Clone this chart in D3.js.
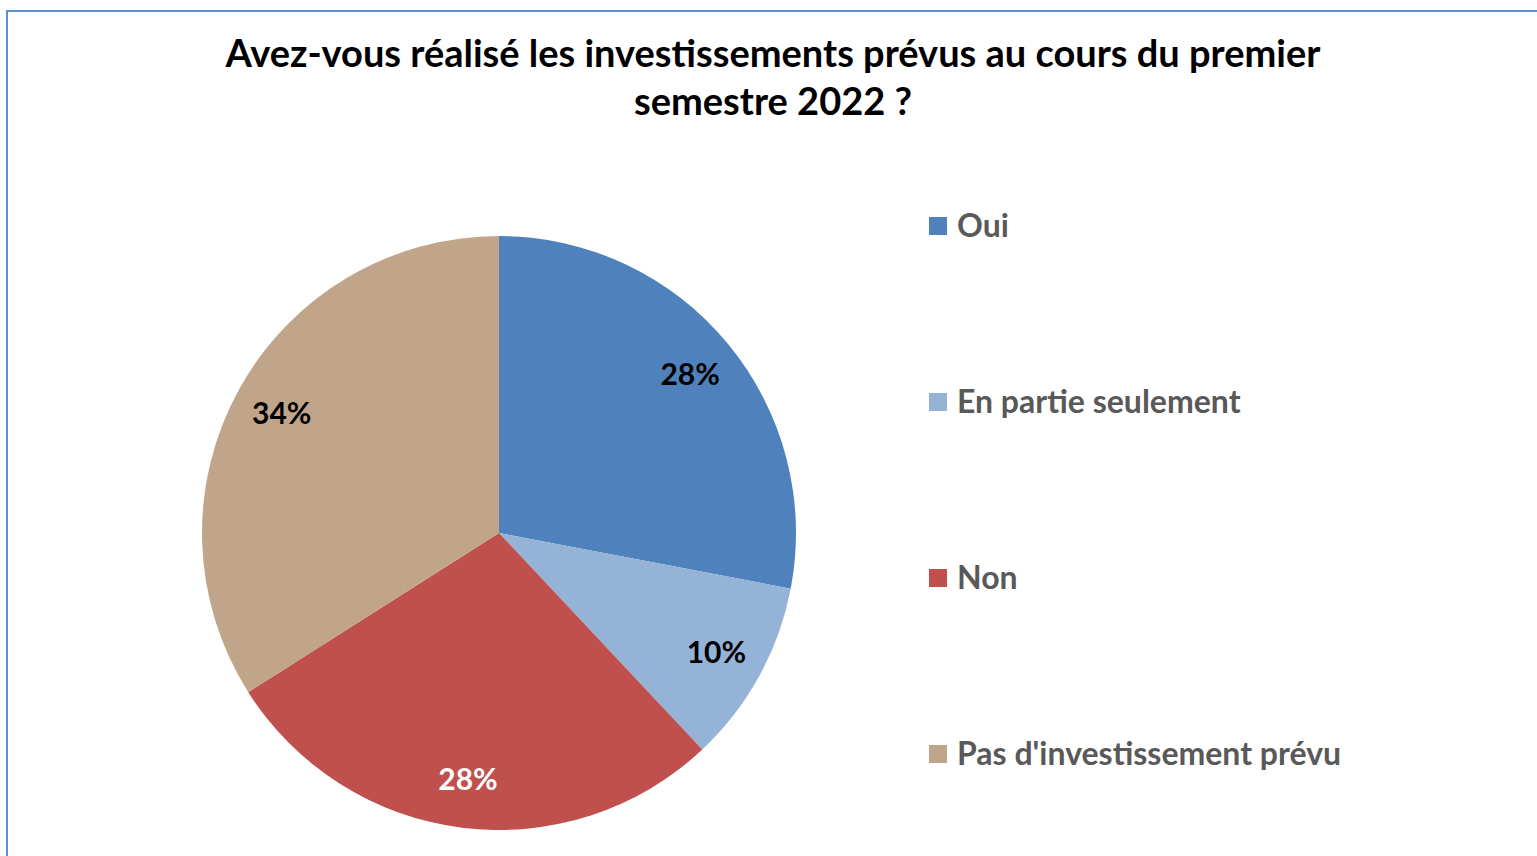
<!DOCTYPE html>
<html>
<head>
<meta charset="utf-8">
<script src="https://cdn.jsdelivr.net/npm/d3@7"></script>
<style>
  html, body { margin: 0; padding: 0; background: #fff; }
  svg { display: block; }
  text { font-family: Lato, "Open Sans", sans-serif; font-weight: bold; }
</style>
</head>
<body>
<svg id="viz" width="1537" height="856"></svg>
<script>
// ---------- data ----------
const categories = ["Oui", "En partie seulement", "Non", "Pas d'investissement prévu"];
const shares = [28, 10, 28, 34];
const colors = ["#4F81BD", "#95B3D7", "#C0504D", "#C1A58A"];
const labelColors = ["#000", "#000", "#fff", "#000"];
const titleLines = ["Avez-vous réalisé les investissements prévus au cours du premier", "semestre 2022 ?"];

const data = categories.map((c, i) => ({ cat: c, value: shares[i], color: colors[i], lc: labelColors[i] }));

// ---------- layout ----------
const W = 1537, H = 856;
const cx = 499, cy = 533, R = 297;

const svg = d3.select("#viz");

// chart frame (cut by the page edge on right / bottom)
svg.append("rect")
  .attr("x", 7).attr("y", 11)
  .attr("width", W + 20).attr("height", H + 20)
  .attr("fill", "none")
  .attr("stroke", "#5B8FD6")
  .attr("stroke-width", 2);

// title
svg.append("g").selectAll("text")
  .data(titleLines)
  .join("text")
  .attr("x", 773)
  .attr("y", (d, i) => 67 + i * 48)
  .attr("text-anchor", "middle")
  .attr("font-size", 38)
  .attr("fill", "#000")
  .text(d => d);

// pie
const pie = d3.pie().value(d => d.value).sort(null);
const arc = d3.arc().innerRadius(0).outerRadius(R);
const labelArc = d3.arc().innerRadius(R * 0.835).outerRadius(R * 0.835);

const g = svg.append("g").attr("transform", `translate(${cx},${cy})`);
const arcs = pie(data);

g.selectAll("path")
  .data(arcs)
  .join("path")
  .attr("d", arc)
  .attr("fill", d => d.data.color);

g.selectAll("text.lbl")
  .data(arcs)
  .join("text")
  .attr("class", "lbl")
  .attr("transform", d => `translate(${labelArc.centroid(d)})`)
  .attr("text-anchor", "middle")
  .attr("dy", "0.35em")
  .attr("font-size", 30)
  .attr("fill", d => d.data.lc)
  .text(d => `${d.data.value}%`);

// legend
const legendY = d3.scalePoint().domain(categories).range([226, 754]);
const leg = svg.append("g").selectAll("g")
  .data(data)
  .join("g")
  .attr("transform", d => `translate(929,${legendY(d.cat)})`);

leg.append("rect")
  .attr("x", 0).attr("y", -9)
  .attr("width", 18).attr("height", 18)
  .attr("fill", d => d.color);

leg.append("text")
  .attr("x", 28)
  .attr("dy", "0.35em")
  .attr("font-size", 32)
  .attr("fill", "#595959")
  .text(d => d.cat);
</script>
</body>
</html>
